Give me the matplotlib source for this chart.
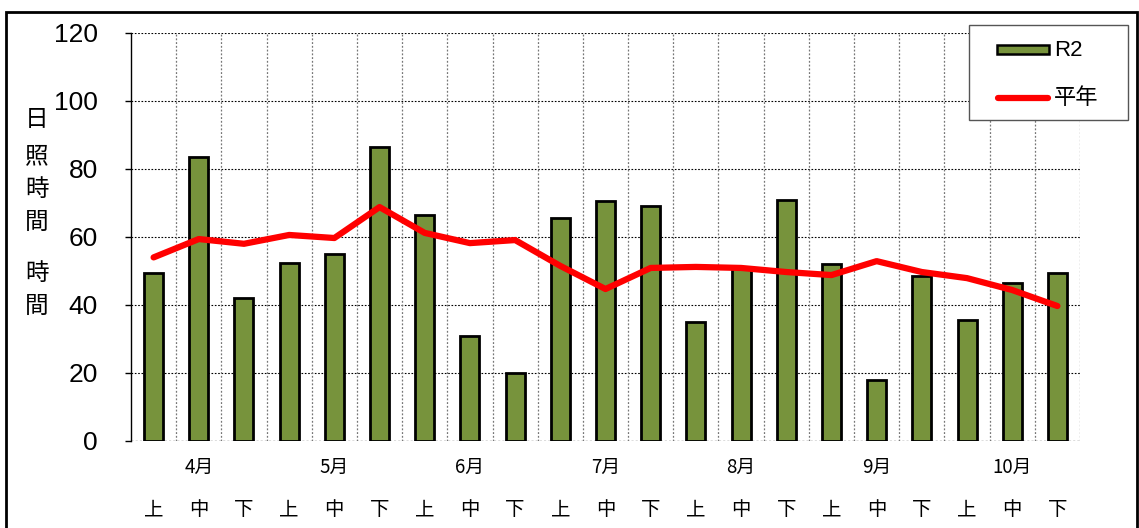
import matplotlib
matplotlib.use("Agg")
import matplotlib.pyplot as plt
from matplotlib.patches import Rectangle
from matplotlib.lines import Line2D
import numpy as np

months = ["4月", "5月", "6月", "7月", "8月", "9月", "10月"]
periods = ["上", "中", "下"]
r2 = [49.5, 83.5, 42, 52.5, 55, 86.5, 66.5, 31, 20, 65.5, 70.5, 69, 35, 51, 71, 52, 18, 48.5, 35.5, 46.5, 49.5]
normal = [54, 59.4, 58, 60.6, 59.7, 68.8, 61.2, 58.2, 59.1, 51.5, 44.7, 50.9, 51.2, 50.9, 49.7, 48.8, 52.9, 49.7, 47.9, 44.4, 39.7]
yticks = [0, 20, 40, 60, 80, 100, 120]
legend_labels = ["R2", "平年"]

CJK = ["Noto Sans CJK JP", "DejaVu Sans"]
LAT = ["Liberation Sans", "Noto Sans CJK JP"]
BAR_C = "#77933C"
LINE_C = "#FF0000"

fig = plt.figure(figsize=(11.39, 5.28), dpi=100)
W, H = 1139, 528
ax = fig.add_axes([131 / W, 1 - 441 / H, (1080 - 131) / W, (441 - 33) / H])

x = np.arange(len(r2))
ax.bar(x, r2, width=0.42, color=BAR_C, edgecolor="black", linewidth=2, zorder=3)
ax.plot(x, normal, color=LINE_C, linewidth=4.5, solid_capstyle="round", zorder=4)

ax.set_xlim(-0.5, len(r2) - 0.5)
ax.set_ylim(0, 120)
ax.set_yticks(yticks)
ax.set_yticklabels([str(v) for v in yticks], family=LAT, fontsize=19)
ax.tick_params(axis="y", length=4, width=1, pad=20)
ax.set_xticks([])

# grid
for v in yticks[1:]:
    ax.axhline(v, color="black", linestyle=(0, (1.5, 1.5)), linewidth=0.8, zorder=1)
ax.axhline(0, color="#555555", linestyle=(0, (1.5, 1.5)), linewidth=1.0, zorder=1)
for b in np.arange(0.5, len(r2), 1.0):
    ax.axvline(b, color="#777777", linestyle=(0, (1.5, 1.5)), linewidth=0.9, zorder=1)

for s in ["top", "right", "bottom"]:
    ax.spines[s].set_visible(False)
ax.spines["left"].set_color("black")
ax.spines["left"].set_linewidth(1)

# x labels
for i, m in enumerate(months):
    ax.text(3 * i + 1, -7.8, m, ha="center", va="center", family=CJK, fontsize=13.5)
for i in range(len(r2)):
    ax.text(i, -20.2, periods[i % 3], ha="center", va="center", family=CJK, fontsize=14)

# y label characters
ylab_chars = ["日", "照", "時", "間", "時", "間"]
ylab_y = [120, 157, 190, 222, 273, 306]
for c, yy in zip(ylab_chars, ylab_y):
    fig.text(37 / W, 1 - yy / H, c, ha="center", va="center", family=CJK, fontsize=17)

# legend (manual)
fx = lambda px: px / W
fy = lambda py: 1 - py / H
fig.patches.append(Rectangle((fx(969), fy(120)), (1128 - 969) / W, (120 - 25) / H,
                             transform=fig.transFigure, fill=True, facecolor="white",
                             edgecolor="#555555", linewidth=1, zorder=5))
fig.patches.append(Rectangle((fx(997), fy(54)), (1049 - 997) / W, 9 / H,
                             transform=fig.transFigure, facecolor=BAR_C,
                             edgecolor="black", linewidth=1.8, zorder=6))
fig.lines.append(Line2D([fx(998), fx(1048)], [fy(98), fy(98)], transform=fig.transFigure,
                        color=LINE_C, linewidth=4.5, solid_capstyle="round", zorder=6))
fig.text(fx(1054), fy(50), legend_labels[0], ha="left", va="center", family=LAT, fontsize=16, zorder=7)
fig.text(fx(1054), fy(98), legend_labels[1], ha="left", va="center", family=CJK, fontsize=16, zorder=7)

# outer border
fig.patches.append(Rectangle((6 / W, -0.1), (1137 - 6) / W, 1 - 12 / H + 0.1,
                             transform=fig.transFigure, fill=False, edgecolor="black",
                             linewidth=2, clip_on=False))

fig.savefig("out.png", dpi=100)
